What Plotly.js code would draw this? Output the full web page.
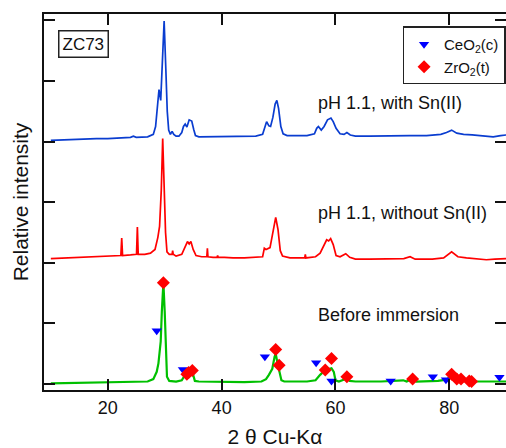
<!DOCTYPE html>
<html>
<head>
<meta charset="utf-8">
<script src="https://cdn.plot.ly/plotly-3.0.1.min.js"></script>
<style>html,body{margin:0;padding:0;overflow:hidden;background:#fff}#chart{width:506px;height:448px}</style>
</head>
<body>
<div id="chart"></div>
<script>
// pH 1.1, with Sn(II)  (offset +4)
var withSnX = [10,12,15,18,20,22,24,24.5,25,27,28.0,28.4,28.8,29.0,29.3,29.6,29.9,30.2,30.45,30.7,31.0,31.3,31.6,32.0,32.5,33.0,33.3,33.6,33.9,34.3,34.75,35.1,35.4,36,38,40,42,44,46,47.2,47.6,47.9,48.3,48.6,49.0,49.4,49.7,50.0,50.4,50.8,51.5,53,55,56.3,56.7,57.0,57.5,58.0,58.6,59.2,59.6,60.1,60.8,61.5,62.0,62.6,63.5,66,70,73,76,78.5,79.5,80.4,81.3,82.5,84,86,87.7,89,90];
var withSnY = [4.02,4.03,4.04,4.05,4.05,4.06,4.07,4.09,4.07,4.08,4.12,4.25,4.7,4.86,4.68,5.3,5.99,5.2,4.5,4.19,4.12,4.17,4.12,4.09,4.09,4.15,4.25,4.29,4.24,4.36,4.34,4.2,4.1,4.08,4.08,4.08,4.08,4.09,4.09,4.12,4.25,4.33,4.26,4.25,4.4,4.62,4.68,4.55,4.25,4.13,4.1,4.1,4.1,4.13,4.22,4.25,4.19,4.25,4.36,4.39,4.33,4.22,4.13,4.12,4.15,4.11,4.09,4.09,4.1,4.1,4.1,4.12,4.15,4.19,4.14,4.12,4.11,4.09,4.08,4.1,4.11];

// pH 1.1, without Sn(II)  (offset +2)
var noSnX = [10,12,15,18,20,22.3,22.45,22.6,24,25.05,25.2,25.35,26.5,27.5,28.3,28.8,29.1,29.4,29.65,29.9,30.15,30.4,30.8,31.3,31.4,31.5,32,33,33.6,34.0,34.3,34.6,35.0,35.5,36.5,37.4,37.5,37.6,38.5,39.2,39.3,39.4,40.5,42,44,46,47.2,47.5,47.8,48.5,49.1,49.5,49.9,50.3,50.7,52,54.6,54.7,54.8,56.5,57.3,57.9,58.45,58.8,59.15,59.6,60.1,60.8,61.8,62.5,63.5,66,70,72,73.1,74,77,79,80.4,81.5,83,86.5,88,90];
var noSnY = [2.07,2.08,2.09,2.1,2.11,2.12,2.41,2.12,2.13,2.14,2.59,2.14,2.14,2.16,2.22,2.42,2.6,3.2,4.05,3.3,2.5,2.18,2.14,2.14,2.2,2.14,2.11,2.14,2.25,2.35,2.31,2.35,2.22,2.12,2.1,2.1,2.24,2.1,2.09,2.09,2.12,2.09,2.09,2.08,2.08,2.09,2.1,2.24,2.22,2.25,2.55,2.75,2.55,2.2,2.11,2.08,2.08,2.14,2.08,2.1,2.16,2.28,2.38,2.36,2.4,2.3,2.12,2.1,2.15,2.09,2.06,2.06,2.06,2.07,2.1,2.06,2.06,2.08,2.18,2.1,2.08,2.05,2.06,2.07];

// Before immersion
var beforeX = [10,15,20,25,27,28.0,28.6,28.9,29.3,29.5,29.77,30.0,30.2,30.4,30.8,32,33,33.5,33.9,34.4,34.75,35.0,35.3,36,40,44,47,47.8,48.3,48.9,49.3,49.5,49.8,50.1,50.5,51,55,56.5,57.3,58.2,58.8,59.3,59.7,60.0,60.6,61.5,62.0,62.5,63.5,68,71.9,72.5,73.4,74.2,78,79.5,80.1,80.7,81.5,83,86,89.5,90];
var beforeY = [0.01,0.02,0.03,0.03,0.04,0.08,0.2,0.34,0.7,1.2,1.67,1.2,0.5,0.12,0.05,0.04,0.06,0.13,0.2,0.22,0.24,0.15,0.05,0.04,0.03,0.03,0.04,0.08,0.15,0.25,0.45,0.5,0.35,0.2,0.06,0.04,0.04,0.06,0.15,0.23,0.25,0.26,0.2,0.06,0.04,0.07,0.09,0.05,0.04,0.04,0.06,0.04,0.08,0.04,0.05,0.07,0.12,0.09,0.06,0.04,0.04,0.04,0.04];

// Reference peak markers
var ceo2X = [28.6,33.2,47.6,56.6,59.3,69.7,77.1,79.4,88.8];
var ceo2Y = [0.88,0.24,0.45,0.35,0.05,0.05,0.12,0.07,0.11];
var zro2X = [29.77,33.9,34.2,34.85,49.5,50.1,58.2,59.3,62.0,73.55,80.4,81.3,82.05,83.5,83.9];
var zro2Y = [1.67,0.16,0.19,0.22,0.57,0.31,0.23,0.42,0.12,0.08,0.16,0.08,0.08,0.05,0.04];

var labels = ["pH 1.1, with Sn(II)", "pH 1.1, without Sn(II)", "Before immersion"];
var sampleLabel = "ZC73";

var FONT = "Liberation Sans, Arial, Helvetica, sans-serif";

var traces = [
  {x: withSnX, y: withSnY, mode: "lines", line: {color: "#0a3dd0", width: 1.7}, showlegend: false, hoverinfo: "skip"},
  {x: noSnX, y: noSnY, mode: "lines", line: {color: "#ff0000", width: 1.7}, showlegend: false, hoverinfo: "skip"},
  {x: beforeX, y: beforeY, mode: "lines", line: {color: "#00c000", width: 2.2}, showlegend: false, hoverinfo: "skip"},
  {x: ceo2X, y: ceo2Y, mode: "markers", name: "CeO<sub>2</sub>(c)", marker: {symbol: "triangle-down", color: "#0000ff", size: 9}},
  {x: zro2X, y: zro2Y, mode: "markers", name: "ZrO<sub>2</sub>(t)", marker: {symbol: "diamond", color: "#ff0000", size: 10}}
];

var layout = {
  width: 506, height: 448,
  margin: {l: 44, r: 0, t: 14, b: 58, pad: 0},
  paper_bgcolor: "#fff", plot_bgcolor: "#fff",
  font: {family: FONT, color: "#111", size: 18},
  showlegend: true,
  legend: {x: 0.999, y: 0.967, xanchor: "right", yanchor: "top", bgcolor: "#fff",
           bordercolor: "#222", borderwidth: 1.5, font: {size: 15, family: FONT},
           itemwidth: 30, tracegroupgap: 0},
  xaxis: {range: [8.8, 89.95], tickvals: [20, 40, 60, 80], ticks: "inside", ticklen: 11, tickwidth: 2,
          tickcolor: "#111", showline: true, linewidth: 2, linecolor: "#111", mirror: "ticks",
          showgrid: false, zeroline: false, tickfont: {size: 18},
          title: {text: "2 θ Cu-Kα", font: {size: 21}, standoff: 13}},
  yaxis: {range: [-0.1, 6.107], tick0: 0, dtick: 1, ticks: "inside", ticklen: 11, tickwidth: 2,
          tickcolor: "#111", showline: true, linewidth: 2, linecolor: "#111", mirror: "ticks",
          showgrid: false, zeroline: false, showticklabels: false,
          title: {text: "Relative intensity", font: {size: 21}, standoff: 8}},
  annotations: [
    {xref: "paper", yref: "paper", x: 0.589, y: 0.763, xanchor: "left", yanchor: "middle", text: labels[0], showarrow: false, font: {size: 18}},
    {xref: "paper", yref: "paper", x: 0.589, y: 0.47, xanchor: "left", yanchor: "middle", text: labels[1], showarrow: false, font: {size: 18}},
    {xref: "paper", yref: "paper", x: 0.589, y: 0.199, xanchor: "left", yanchor: "middle", text: labels[2], showarrow: false, font: {size: 18}},
    {xref: "paper", yref: "paper", x: 0.085, y: 0.919, xanchor: "center", yanchor: "middle", text: sampleLabel, showarrow: false,
     font: {size: 17}, bordercolor: "#222", borderwidth: 1.5, borderpad: 3, bgcolor: "#fff"}
  ]
};

Plotly.newPlot("chart", traces, layout, {displayModeBar: false, staticPlot: true});
</script>
</body>
</html>
